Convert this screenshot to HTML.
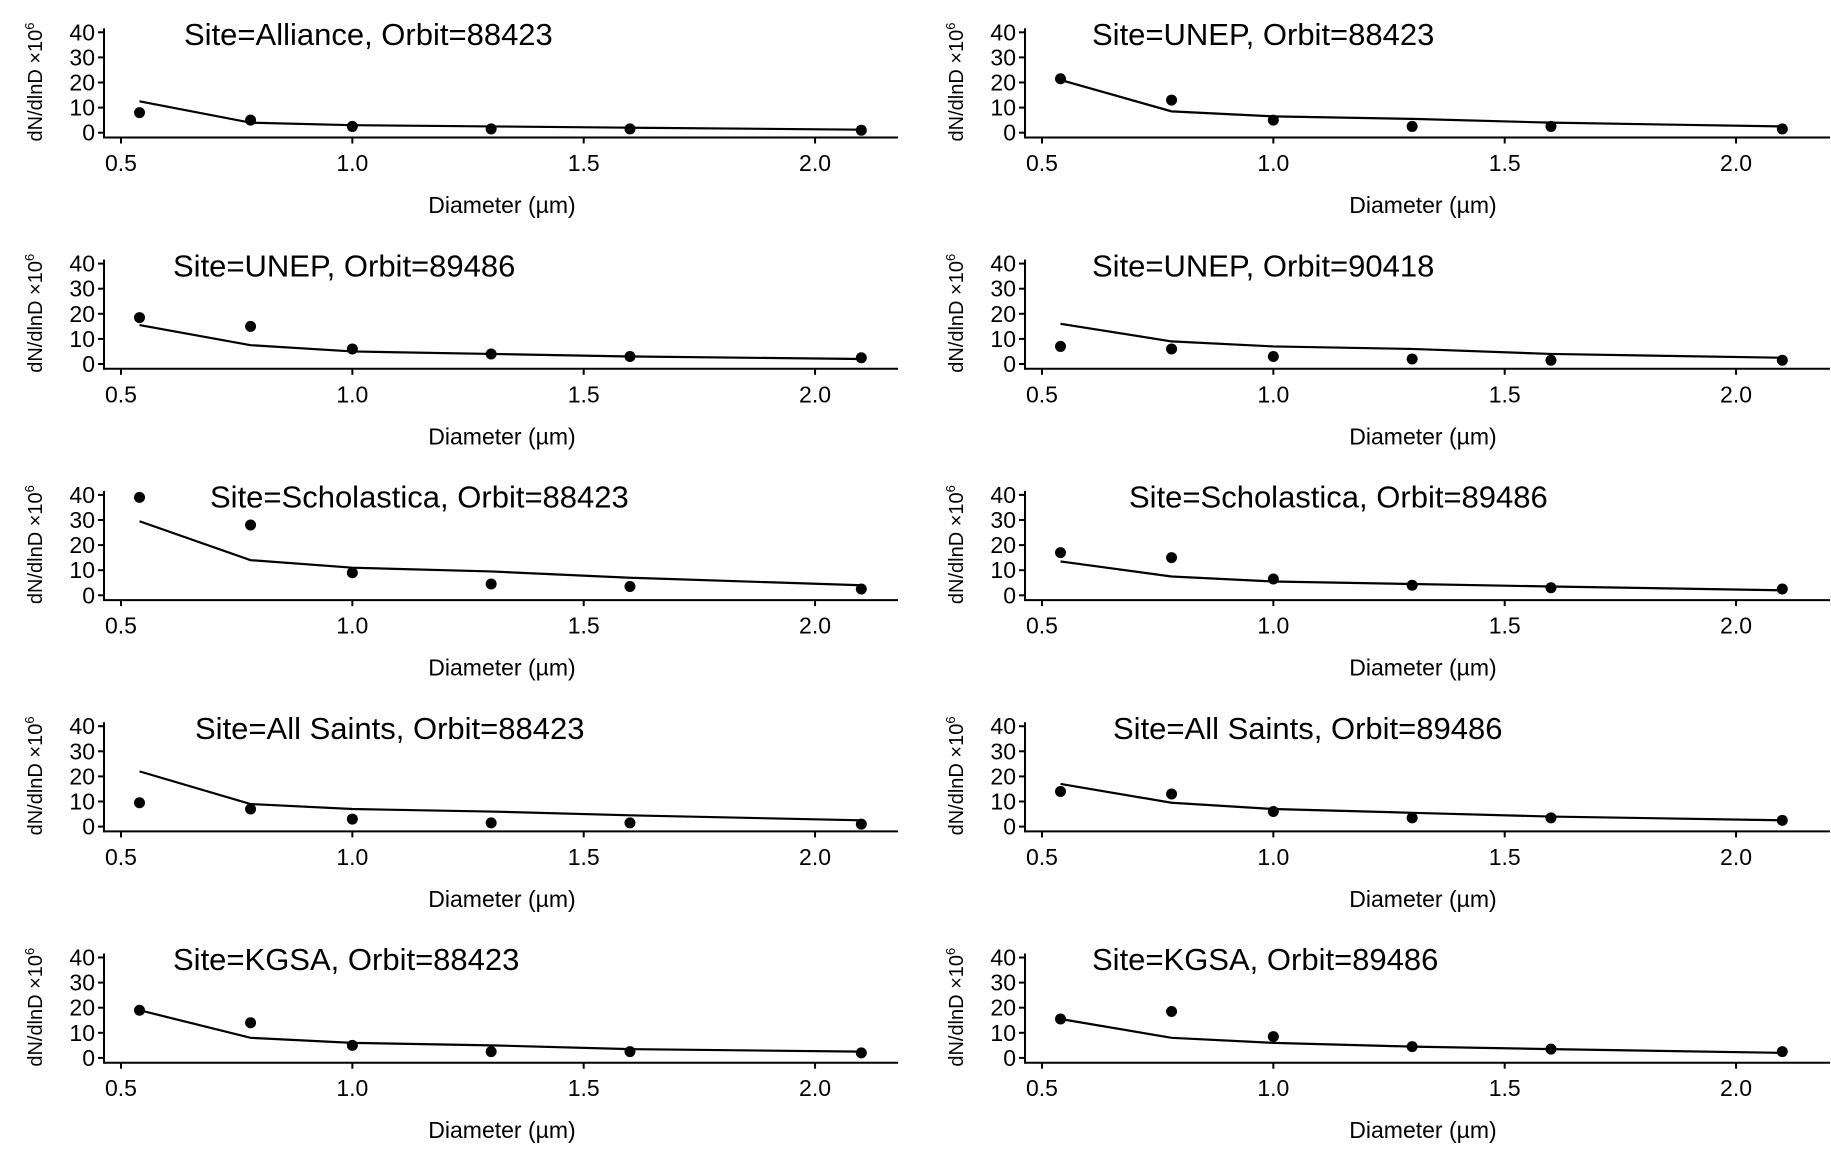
<!DOCTYPE html>
<html><head><meta charset="utf-8"><style>
html,body{margin:0;padding:0;background:#fff;}
svg{display:block;font-family:"Liberation Sans",Arial,sans-serif;}
</style></head><body>
<svg id="chart" width="1831" height="1159" viewBox="0 0 1831 1159" xmlns="http://www.w3.org/2000/svg"></svg>
<script>
const diameters = [0.54, 0.78, 1.0, 1.3, 1.6, 2.1];
const xTicks = [0.5, 1.0, 1.5, 2.0];
const xTickLabels = ["0.5", "1.0", "1.5", "2.0"];
const yTicks = [0, 10, 20, 30, 40];
const titles = ["Site=Alliance, Orbit=88423","Site=UNEP, Orbit=88423","Site=UNEP, Orbit=89486","Site=UNEP, Orbit=90418","Site=Scholastica, Orbit=88423","Site=Scholastica, Orbit=89486","Site=All Saints, Orbit=88423","Site=All Saints, Orbit=89486","Site=KGSA, Orbit=88423","Site=KGSA, Orbit=89486"];
const titleX = [184,1096,173,1096,210,1133,195,1117,173,1096];
const observed = [
 [8,5,2.5,1.5,1.5,1],
 [21.5,13,5,2.5,2.5,1.5],
 [18.5,15,6,4,3,2.5],
 [7,6,3,2,1.5,1.5],
 [39,28,9,4.5,3.5,2.5],
 [17,15,6.5,4,3,2.5],
 [9.5,7,3,1.5,1.5,1],
 [14,13,6,3.5,3.5,2.5],
 [19,14,5,2.5,2.5,2],
 [15.5,18.5,8.5,4.5,3.5,2.5]
];
const modelled = [
 [12.5,4,3,2.5,2,1.2],
 [21,8.5,6.5,5.5,4,2.5],
 [15.5,7.5,5,4,3,2],
 [16,9,7,6,4,2.5],
 [29.5,14,11,9.5,7,4],
 [13.5,7.5,5.5,4.5,3.5,2],
 [22,9,7,6,4.5,2.5],
 [17,9.5,7,5.5,4,2.5],
 [19,8,6,5,3.5,2.5],
 [15.5,8,6,4.5,3.5,2]
];
const svg = document.getElementById('chart');
const NS = 'http://www.w3.org/2000/svg';
function mk(tag, attrs, parent){const e=document.createElementNS(NS,tag);for(const k in attrs)e.setAttribute(k,attrs[k]);parent.appendChild(e);return e;}
for(let p=0;p<10;p++){
  const col=p%2,row=Math.floor(p/2);
  const ox=col*921, oy=row*231.3;
  const xS=v=>ox+121+(v-0.5)*462.7;
  const yS=v=>oy+132.7-v*(100.4/40);
  const g=mk('g',{},svg);
  
  
  const axisY=oy+137.5, axisX=ox+104;
  const xa=mk('line',{x1:axisX,x2:ox+(col?909:898),y1:axisY,y2:axisY,stroke:'#000','stroke-width':2},g);
  
  
  const ya=mk('line',{x1:axisX,x2:axisX,y1:yS(40)-4,y2:axisY+1,stroke:'#000','stroke-width':2},g);
  
  
  xTicks.forEach((t,i)=>{
    mk('line',{x1:xS(t),x2:xS(t),y1:axisY,y2:axisY+6,stroke:'#000','stroke-width':2},g);
    const tx=mk('text',{x:xS(t),y:oy+171,'text-anchor':'middle','font-size':23,fill:'#000'},g);
    tx.textContent=xTickLabels[i];
    
    
  });
  yTicks.forEach(t=>{
    mk('line',{x1:axisX-6,x2:axisX,y1:yS(t),y2:yS(t),stroke:'#000','stroke-width':2},g);
    const ty=mk('text',{x:axisX-9,y:yS(t)+8,'text-anchor':'end','font-size':23,fill:'#000'},g);
    ty.textContent=t;
    
    
  });
  const yt=mk('text',{transform:`translate(${ox+42},${oy+82}) rotate(-90)`,'text-anchor':'middle','font-size':20,fill:'#000'},g);
  yt.innerHTML='dN/dlnD ×10<tspan dy="-8" font-size="13">6</tspan>';
  
  
  const xt=mk('text',{x:ox+502,y:oy+213,'text-anchor':'middle','font-size':23,fill:'#000'},g);
  xt.textContent='Diameter (µm)';
  
  
  const tt=mk('text',{x:titleX[p]-(col?4:0),y:oy+45,'font-size':31,fill:'#000'},g);
  tt.textContent=titles[p];
  
  
  const pts=diameters.map((d,i)=>xS(d)+','+yS(modelled[p][i])).join(' ');
  const ln=mk('polyline',{points:pts,fill:'none',stroke:'#000','stroke-width':2.2},g);
  
  
  diameters.forEach((d,i)=>{
    const c=mk('circle',{cx:xS(d),cy:yS(observed[p][i]),r:5.5,fill:'#000'},g);
    
    
  });
}
</script>
</body></html>
